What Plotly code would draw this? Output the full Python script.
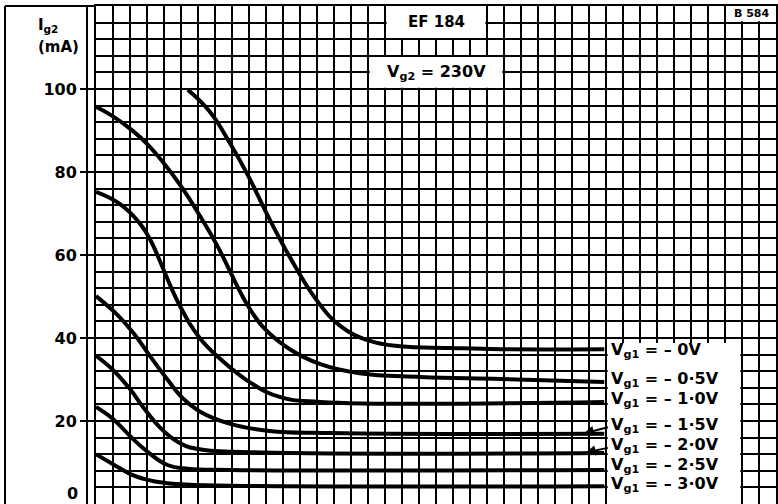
import plotly.graph_objects as go

# Data (anode voltage in V, screen-grid current in mA)
va_00 = [54, 67, 79, 89, 101, 114, 130, 144, 161, 179, 208, 238, 299]
ig_00 = [99.8, 94.5, 86.8, 79.5, 69.5, 59.5, 49, 42.8, 39.3, 38, 37.6, 37.3, 37.3]
va_05 = [0, 10, 22, 30, 39, 51, 61, 71, 89, 99, 114, 132, 155, 191, 238, 299]
ig_05 = [95.7, 93.4, 89.8, 86.8, 82.6, 76, 69.5, 62.5, 48, 42.3, 37.3, 33.7, 31.5, 30.6, 30.1, 29.4]
va_10 = [0, 14, 26, 32, 49, 61, 73, 91, 108, 132, 299]
ig_10 = [75.2, 72.3, 67.5, 63.6, 48, 40, 35, 29.2, 25.8, 24.6, 24.6]
va_15 = [0, 12, 22, 32, 42, 51, 61, 79, 102, 138, 299]
ig_15 = [50.1, 45.8, 41.2, 35.5, 30, 25.5, 22.3, 19.3, 17.6, 17.1, 16.9]
va_20 = [0, 10, 20, 28, 38, 48, 59, 91, 299]
ig_20 = [35.7, 32.3, 27.7, 23.2, 18.3, 15, 13.3, 12.5, 12.3]
va_25 = [0, 10, 20, 30, 42, 54, 79, 299]
ig_25 = [23.4, 20.5, 16.4, 12.7, 9.4, 8.5, 8.2, 8.2]
va_30 = [0, 10, 22, 34, 48, 79, 299]
ig_30 = [12, 9.6, 6.9, 5.5, 4.8, 4.4, 4.3]

series_x = [va_00, va_05, va_10, va_15, va_20, va_25, va_30]
series_y = [ig_00, ig_05, ig_10, ig_15, ig_20, ig_25, ig_30]
series_labels = ["V<sub>g1</sub> = – 0V", "V<sub>g1</sub> = – 0·5V", "V<sub>g1</sub> = – 1·0V",
                 "V<sub>g1</sub> = – 1·5V", "V<sub>g1</sub> = – 2·0V", "V<sub>g1</sub> = – 2·5V",
                 "V<sub>g1</sub> = – 3·0V"]
label_y = [36.9, 29.9, 25.3, 19.0, 14.2, 9.2, 4.6]

y_tick_vals = [20, 40, 60, 80, 100]
y_tick_text = ["20", "40", "60", "80", "100"]

FONT = "DejaVu Sans"

fig = go.Figure()
for xs, ys in zip(series_x, series_y):
    fig.add_trace(go.Scatter(x=xs, y=ys, mode="lines",
                             line=dict(color="black", width=4, shape="spline", smoothing=1.2),
                             showlegend=False, hoverinfo="skip"))

shapes = []
# white boxes hiding grid behind texts
for x0, x1, y0, y1 in [(301, 379, -2, 38.8), (171, 229, 112.3, 121), (161, 239, 100.3, 107.7), (371, 401, 116.3, 121)]:
    shapes.append(dict(type="rect", xref="x", yref="y", x0=x0, x1=x1, y0=y0, y1=y1,
                       fillcolor="white", line=dict(width=0), layer="above"))
# frame lines in left margin
shapes.append(dict(type="line", xref="paper", yref="paper", x0=-0.0132, x1=-0.0132, y0=-0.01, y1=1,
                   line=dict(color="black", width=2)))
shapes.append(dict(type="line", xref="paper", yref="paper", x0=-0.1338, x1=-0.1338, y0=-0.01, y1=1,
                   line=dict(color="black", width=2)))
shapes.append(dict(type="line", xref="paper", yref="paper", x0=-0.1338, x1=0, y0=1, y1=1,
                   line=dict(color="black", width=2)))

annotations = []
for txt, yy in zip(series_labels, label_y):
    annotations.append(dict(x=302, y=yy, xref="x", yref="y", text=txt, showarrow=False,
                            xanchor="left", yanchor="middle",
                            font=dict(family=FONT, size=16, color="black", weight="bold")))
# leader arrows
for (xt, yt, xh, yh) in [(302, 18.6, 287, 17.0), (302, 13.6, 288, 12.4)]:
    annotations.append(dict(x=xh, y=yh, ax=xt, ay=yt, xref="x", yref="y", axref="x", ayref="y",
                            text="", showarrow=True, arrowhead=2, arrowsize=1, arrowwidth=2,
                            arrowcolor="black", standoff=0))
annotations += [
    dict(x=200, y=116.2, xref="x", yref="y", text="EF 184", showarrow=False,
         font=dict(family=FONT, size=15, color="black", weight="bold")),
    dict(x=200, y=104, xref="x", yref="y", text="V<sub>g2</sub> = 230V", showarrow=False,
         font=dict(family=FONT, size=16, color="black", weight="bold")),
    dict(x=386, y=118.2, xref="x", yref="y", text="B 584", showarrow=False,
         font=dict(family=FONT, size=11, color="black", weight="bold")),
    dict(x=-0.088, y=0.965, xref="paper", yref="paper", text="I<sub>g2</sub>", showarrow=False,
         yshift=9, font=dict(family=FONT, size=15, color="black", weight="bold")),
    dict(x=-0.088, y=0.92, xref="paper", yref="paper", text="(mA)", showarrow=False,
         yshift=10, font=dict(family=FONT, size=15, color="black", weight="bold")),
    dict(x=-0.024, y=0, xref="paper", yref="y", text="0", showarrow=False, xanchor="right",
         yanchor="middle", yshift=11,
         font=dict(family=FONT, size=16, color="black", weight="bold")),
]

fig.update_layout(
    width=778, height=504,
    margin=dict(l=96, r=2, t=6, b=0, pad=0),
    paper_bgcolor="white", plot_bgcolor="white",
    shapes=shapes, annotations=annotations,
    xaxis=dict(range=[0, 400], showticklabels=False, ticks="", showgrid=True, dtick=10,
               gridcolor="black", gridwidth=2, zeroline=False,
               showline=True, mirror=True, linecolor="black", linewidth=2),
    yaxis=dict(range=[0, 120], tickmode="array", tickvals=y_tick_vals, ticktext=y_tick_text,
               ticks="outside", ticklen=14, tickwidth=2, tickcolor="black",
               tickfont=dict(family=FONT, size=16, color="black", weight="bold"),
               showgrid=True, gridcolor="black", gridwidth=2, zeroline=False,
               minor=dict(dtick=4, tick0=0, showgrid=True, gridcolor="black", gridwidth=2, ticks=""),
               showline=True, mirror=True, linecolor="black", linewidth=2),
)

fig.write_html("out.html", config={"displayModeBar": False},
               post_script="document.body.style.margin='0';document.body.style.overflow='hidden';")
